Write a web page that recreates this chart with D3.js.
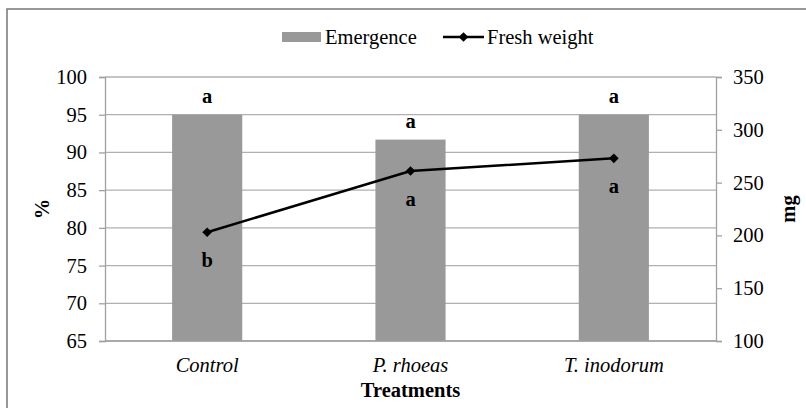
<!DOCTYPE html>
<html>
<head>
<meta charset="utf-8">
<script src="https://cdn.jsdelivr.net/npm/d3@7"></script>
<style>
  body { margin: 0; background: #fff; }
  svg text { font-family: "Liberation Serif", "DejaVu Serif", serif !important; }
</style>
</head>
<body>
<div id="chart"></div>
<script>
const treatments = ["Control", "P. rhoeas", "T. inodorum"];
const emergence = [95, 91.7, 95];
const freshWeight = [203, 261, 273];
const emergenceLetters = ["a", "a", "a"];
const weightLetters = ["b", "a", "a"];
const leftTicks = [65, 70, 75, 80, 85, 90, 95, 100];
const rightTicks = [100, 150, 200, 250, 300, 350];

const width = 806, height = 408,
    margin = ({top: 77, right: 90, bottom: 67, left: 105});
const serif = "'Liberation Serif', 'DejaVu Serif', serif";
const fs = 20.5;

let svg = d3.select("#chart").append("svg")
    .attr("width", width).attr("height", height)
    .attr("viewBox", [0, 0, width, height])
    .attr("font-family", serif);

// outer frame (cut off at right and bottom)
svg.append("rect")
    .attr("x", 7).attr("y", 9)
    .attr("width", width + 20).attr("height", height + 20)
    .attr("fill", "none").attr("stroke", "#777").attr("stroke-width", 1.5);

let x = d3.scaleBand()
    .domain(treatments)
    .range([margin.left, width - margin.right])
    .paddingInner(0.655).paddingOuter(0.33);

let y = d3.scaleLinear()
    .domain([65, 100])
    .range([height - margin.bottom, margin.top]);

let y2 = d3.scaleLinear()
    .domain([100, 350])
    .range([height - margin.bottom, margin.top]);

// gridlines
svg.append("g")
    .selectAll("line")
    .data(leftTicks)
    .join("line")
    .attr("x1", margin.left).attr("x2", width - margin.right)
    .attr("y1", d => y(d)).attr("y2", d => y(d))
    .attr("stroke", "#b0b0b0").attr("stroke-width", 1.3);

const yAxis = g => g
    .attr("transform", `translate(${margin.left}, 0)`)
    .call(d3.axisLeft(y).tickValues(leftTicks).tickSize(6).tickPadding(12))
    .attr("font-family", serif)
    .call(g => g.selectAll(".domain, line").attr("stroke", "#a0a0a0").attr("stroke-width", 1.3))
    .call(g => g.selectAll("text").attr("font-size", fs).attr("fill", "#000"));

const y2Axis = g => g
    .attr("transform", `translate(${width - margin.right}, 0)`)
    .call(d3.axisRight(y2).tickValues(rightTicks).tickSize(6).tickPadding(11))
    .attr("font-family", serif)
    .call(g => g.selectAll(".domain, line").attr("stroke", "#a0a0a0").attr("stroke-width", 1.3))
    .call(g => g.selectAll("text").attr("font-size", fs).attr("fill", "#000"));

let bar = svg.selectAll(".bar")
    .data(treatments)
    .join("g")
    .attr("class", "bar");

bar.append("rect")
    .attr("fill", "#999999")
    .attr("x", d => x(d))
    .attr("width", x.bandwidth())
    .attr("y", (d, i) => y(emergence[i]))
    .attr("height", (d, i) => y(65) - y(emergence[i]));

svg.append("g").call(yAxis);
svg.append("g").call(y2Axis);

// bottom axis line
svg.append("line")
    .attr("x1", margin.left).attr("x2", width - margin.right)
    .attr("y1", y(65)).attr("y2", y(65))
    .attr("stroke", "#a0a0a0").attr("stroke-width", 1.3);

// category labels
svg.append("g")
    .selectAll("text")
    .data(treatments)
    .join("text")
    .attr("x", d => x(d) + x.bandwidth() / 2)
    .attr("y", height - margin.bottom + 31)
    .attr("text-anchor", "middle")
    .attr("font-size", fs)
    .attr("font-style", "italic")
    .text(d => d);

// line
const cx = d => x(d) + x.bandwidth() / 2;
const line = d3.line()
    .x(d => cx(d))
    .y((d, i) => y2(freshWeight[i]));

svg.append("path")
    .datum(treatments)
    .attr("fill", "none")
    .attr("stroke", "#000")
    .attr("stroke-width", 2.5)
    .attr("d", line);

const diamond = d3.symbol().type(d3.symbolDiamond2).size(60);
svg.append("g")
    .selectAll("path")
    .data(treatments)
    .join("path")
    .attr("d", diamond)
    .attr("transform", (d, i) => `translate(${cx(d)}, ${y2(freshWeight[i])})`)
    .attr("fill", "#000");

// significance letters
svg.append("g")
    .selectAll("text")
    .data(treatments)
    .join("text")
    .attr("x", d => cx(d))
    .attr("y", (d, i) => y(emergence[i]) - 12)
    .attr("text-anchor", "middle")
    .attr("font-size", fs).attr("font-weight", "bold")
    .text((d, i) => emergenceLetters[i]);

svg.append("g")
    .selectAll("text")
    .data(treatments)
    .join("text")
    .attr("x", d => cx(d))
    .attr("y", (d, i) => y2(freshWeight[i]) + 35)
    .attr("text-anchor", "middle")
    .attr("font-size", fs).attr("font-weight", "bold")
    .text((d, i) => weightLetters[i]);

// axis titles
svg.append("text")
    .attr("x", (margin.left + width - margin.right) / 2)
    .attr("y", 397)
    .attr("text-anchor", "middle")
    .attr("font-size", fs).attr("font-weight", "bold")
    .text("Treatments");

svg.append("text")
    .attr("transform", `translate(49, ${(y(65) + y(100)) / 2}) rotate(-90)`)
    .attr("text-anchor", "middle")
    .attr("font-size", fs).attr("font-weight", "bold")
    .text("%");

svg.append("text")
    .attr("transform", `translate(795, ${(y(65) + y(100)) / 2}) rotate(-90)`)
    .attr("text-anchor", "middle")
    .attr("font-size", fs).attr("font-weight", "bold")
    .text("mg");

// legend
let legend = svg.append("g");
legend.append("rect")
    .attr("x", 282).attr("y", 32).attr("width", 39).attr("height", 10)
    .attr("fill", "#999999");
legend.append("text")
    .attr("x", 325).attr("y", 44)
    .attr("font-size", fs)
    .text("Emergence");
legend.append("line")
    .attr("x1", 443).attr("x2", 484).attr("y1", 37).attr("y2", 37)
    .attr("stroke", "#000").attr("stroke-width", 2.5);
legend.append("path")
    .attr("d", diamond)
    .attr("transform", "translate(463.5, 37)")
    .attr("fill", "#000");
legend.append("text")
    .attr("x", 487).attr("y", 44)
    .attr("font-size", fs)
    .text("Fresh weight");
</script>
</body>
</html>
